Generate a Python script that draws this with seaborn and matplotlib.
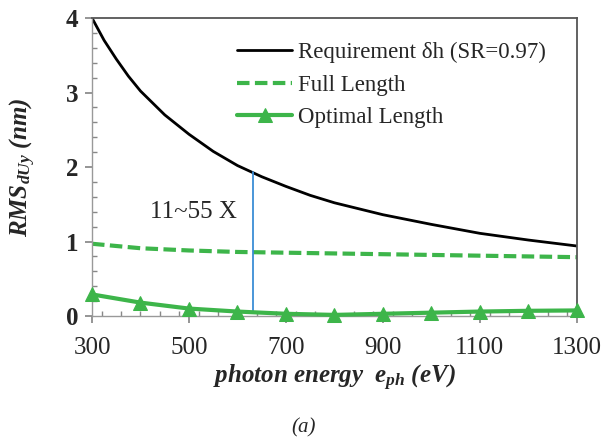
import numpy as np
import pandas as pd
import matplotlib
matplotlib.use("Agg")
import matplotlib.pyplot as plt
import seaborn as sns
from matplotlib.ticker import FixedLocator, MultipleLocator

sns.set_theme(style="white")
plt.rcParams['font.family'] = ['Liberation Serif', 'DejaVu Serif']
plt.rcParams['mathtext.fontset'] = 'custom'
plt.rcParams['mathtext.rm'] = 'Liberation Serif'
plt.rcParams['mathtext.it'] = 'Liberation Serif:italic'
plt.rcParams['mathtext.bf'] = 'Liberation Serif:bold:italic'

# data
req_energy = [300, 325, 350, 375, 400, 450, 500, 550, 600, 650, 700, 750, 800,
              900, 1000, 1100, 1200, 1300]
req_values = [4.0, 3.70, 3.45, 3.22, 3.02, 2.70, 2.44, 2.21, 2.02, 1.87, 1.74,
              1.62, 1.52, 1.36, 1.23, 1.11, 1.02, 0.94]
energy = [300, 400, 500, 600, 700, 800, 900, 1000, 1100, 1200, 1300]
full_length = [0.97, 0.91, 0.88, 0.86, 0.85, 0.84, 0.83, 0.82, 0.81, 0.80, 0.79]
optimal_length = [0.29, 0.18, 0.10, 0.06, 0.03, 0.015, 0.03, 0.045, 0.06, 0.07, 0.075]
x_ticks = [300, 500, 700, 900, 1100, 1300]
y_ticks = [0, 1, 2, 3, 4]
marker_energy = 632
marker_low = 0.06
marker_high = 1.93
annotation = "11~55 X"

green = "#3DB54A"

fig = plt.figure(figsize=(6.03, 4.41), dpi=100)
ax = fig.add_axes([0.1526, 0.2834, 0.804, 0.6757])

sns.lineplot(x=req_energy, y=req_values, ax=ax, color="black", lw=2,
             label="Requirement δh (SR=0.97)")
sns.lineplot(x=energy, y=full_length, ax=ax, color=green, lw=3,
             linestyle=(0, (3, 1.3)), label="Full Length")
sns.lineplot(x=energy, y=optimal_length, ax=ax, color=green, lw=3,
             marker="^", markersize=10, markeredgecolor=green,
             label="Optimal Length", clip_on=False, zorder=5)
ax.plot([marker_energy, marker_energy], [marker_low, marker_high],
        color="#3C8DD6", lw=1.3)
ax.text(510, 1.40, annotation, ha="center", va="center", fontsize=18)

ax.set_xlim(300, 1300)
ax.set_ylim(0, 4)
ax.xaxis.set_major_locator(FixedLocator(x_ticks))
ax.xaxis.set_minor_locator(MultipleLocator(40))
ax.yaxis.set_major_locator(FixedLocator(y_ticks))
ax.yaxis.set_minor_locator(MultipleLocator(0.2))
ax.tick_params(axis="x", which="major", direction="out", length=5,
               color="#888888", labelsize=18, pad=10, bottom=True)
ax.tick_params(axis="x", which="minor", direction="in", length=3.5,
               color="#888888", bottom=True)
ax.tick_params(axis="y", which="major", direction="out", length=5,
               color="#888888", labelsize=18, pad=5, left=True)
ax.tick_params(axis="y", which="minor", direction="in", length=3.5,
               color="#888888", left=True)
for lbl in ax.get_yticklabels():
    lbl.set_fontweight("bold")

for s in ["left", "bottom"]:
    ax.spines[s].set_color("#999999")
    ax.spines[s].set_linewidth(1)
for s in ["right", "top"]:
    ax.spines[s].set_color("#555555")
    ax.spines[s].set_linewidth(1.3)

ax.set_xlabel(r"$\mathbf{photon\ energy\ \ e_{ph}\ (eV)}$", fontsize=18, labelpad=3)
ax.set_ylabel(r"$\mathbf{RMS_{dUy}\ (nm)}$", fontsize=18, labelpad=20)

leg = ax.legend(loc="upper right", frameon=False, fontsize=16.5,
                handlelength=2.4, handletextpad=0.25, labelspacing=0.5,
                bbox_to_anchor=(0.955, 0.95), borderaxespad=0.0)

fig.text(0.503, 1 - 428 / 441, "(a)", ha="center", va="center", fontsize=15,
         style="italic")

fig.savefig("out.png", dpi=100)
